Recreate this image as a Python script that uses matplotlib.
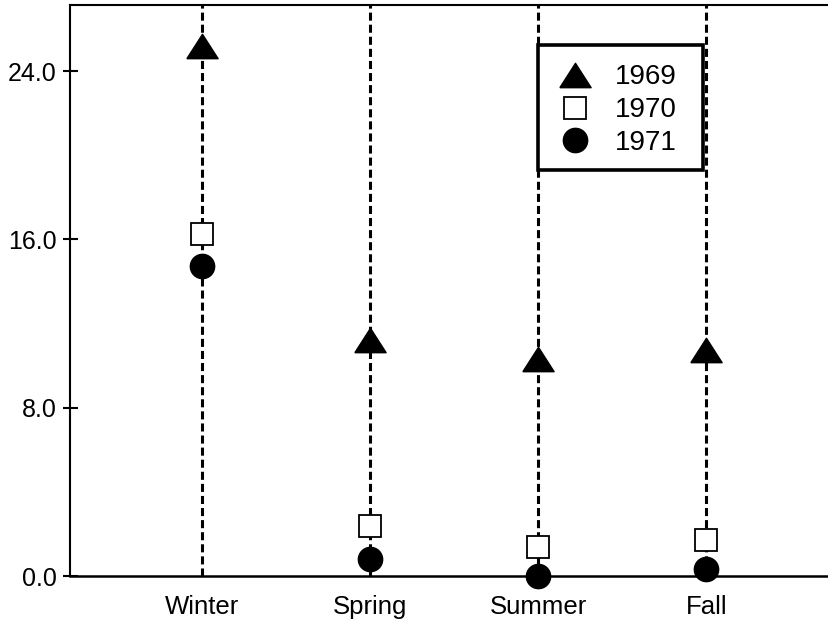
import matplotlib
matplotlib.use("Agg")
import matplotlib.pyplot as plt
from matplotlib.patches import Rectangle
import numpy as np

plt.rcParams['font.family'] = ['Liberation Sans', 'DejaVu Sans']
plt.rcParams['lines.scale_dashes'] = False

seasons = ["Winter", "Spring", "Summer", "Fall"]
years = ["1969", "1970", "1971"]
v1969 = [25.2, 11.2, 10.3, 10.75]
v1970 = [16.25, 2.4, 1.4, 1.7]
v1971 = [14.75, 0.8, 0.0, 0.35]
yticks = [0.0, 8.0, 16.0, 24.0]

fig = plt.figure(figsize=(8.29, 6.28), dpi=100)
ax = fig.add_axes([70/829, 52/628, 759/829, 571/628])

x = np.arange(1, len(seasons) + 1)
for xi in x:
    ax.axvline(xi, color='black', lw=2.2, dashes=(5.8, 2.9), zorder=1)

tri = [(-0.5, -0.39), (0.5, -0.39), (0.0, 0.39), (-0.5, -0.39)]
ax.plot(x, v1969, linestyle='none', marker=tri, markersize=22.5,
        color='black', mec='black', label=years[0], zorder=3, clip_on=False)
ax.plot(x, v1970, linestyle='none', marker='s', markersize=16,
        mfc='white', mec='black', mew=1.3, label=years[1], zorder=3, clip_on=False)
ax.plot(x, v1971, linestyle='none', marker='o', markersize=17.5,
        color='black', label=years[2], zorder=3, clip_on=False)

ax.set_xlim(0.216, 4.73)
ax.set_ylim(0, 27.14)
ax.set_xticks(x)
ax.set_xticklabels(seasons, fontsize=18.5)
ax.set_yticks(yticks)
ax.set_yticklabels([f"{t:.1f}" for t in yticks], fontsize=18)
ax.tick_params(axis='x', length=0, pad=14)
ax.tick_params(axis='y', direction='inout', length=10.8, width=1.5, pad=4)

ax.spines['right'].set_visible(False)
ax.spines['left'].set_linewidth(1.5)
ax.spines['top'].set_linewidth(1.5)
ax.spines['bottom'].set_linewidth(1.8)

# legend frame
lx0, lx1 = (538-70)/759, (703-70)/759
ly1, ly0 = 1-(45-5)/571, 1-(170-5)/571
frame = Rectangle((lx0, ly0), lx1-lx0, ly1-ly0, transform=ax.transAxes,
                  facecolor='white', edgecolor='black', lw=2.6, zorder=4)
ax.add_patch(frame)

leg = ax.legend(loc='upper left', bbox_to_anchor=(lx0, ly1),
                borderaxespad=0, fontsize=20, frameon=False,
                handlelength=1.26, handletextpad=0.81, labelspacing=0.245,
                borderpad=0.7, markerscale=1.0)
leg.set_zorder(5)

fig.savefig("out.png", dpi=100)
